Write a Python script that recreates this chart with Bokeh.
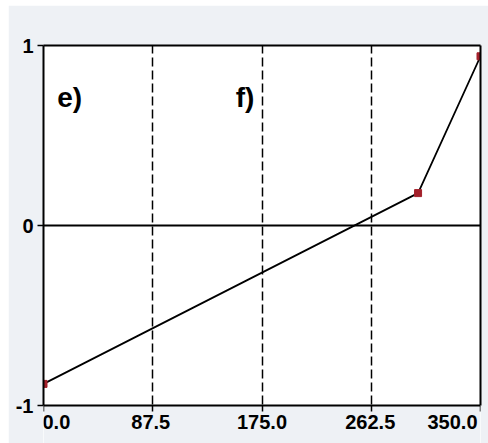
from bokeh.plotting import figure
from bokeh.models import Range1d, FixedTicker, Label, LinearAxis, BoxAnnotation
from bokeh.embed import file_html
from bokeh.resources import INLINE

# ---- data ----
x_values = [0.0, 300.0, 350.0]
y_values = [-0.88, 0.18, 0.94]
x_ticks = [0.0, 87.5, 175.0, 262.5, 350.0]
x_tick_labels = ["0.0", "87.5", "175.0", "262.5", "350.0"]
y_ticks = [-1, 0, 1]
y_tick_labels = ["-1", "0", "1"]
panel_labels = ["e)", "f)"]

# ---- styling / positions ----
AXIS_FONT = "Liberation Sans"
LABEL_FONT = "Liberation Sans"
AXIS_SIZE = "20px"
BG = "#eef1f5"
panel_label_pos = [(11.0, 0.71), (154.0, 0.71)]
x_label_align = ["left", "center", "center", "center", "right"]
x_label_dx = [-1, -2, 0, -1, -3]
y_lo, y_hi = y_ticks[0], y_ticks[-1]
strip = 38 / 180.0   # extra room below the frame for the x tick labels

p = figure(width=480, height=438,
           x_range=Range1d(x_ticks[0], x_ticks[-1]),
           y_range=Range1d(y_lo - strip, y_hi),
           x_axis_location=None, y_axis_location=None,
           output_backend="svg", toolbar_location=None,
           min_border_left=35, min_border_right=8,
           min_border_top=40, min_border_bottom=0,
           background_fill_color="white",
           border_fill_color=BG)
p.margin = (5, 0, 0, 8)
p.outline_line_color = None

# grid: dashed verticals at the inner x ticks, solid line at y = 0
p.xgrid.ticker = FixedTicker(ticks=x_ticks[1:-1])
p.xgrid.grid_line_color = "black"
p.xgrid.grid_line_width = 1.5
p.xgrid.grid_line_dash = "9 4"
p.ygrid.ticker = FixedTicker(ticks=[y_ticks[1]])
p.ygrid.grid_line_color = "black"
p.ygrid.grid_line_width = 2

# grey strip below the frame (holds the x tick labels)
p.add_layout(BoxAnnotation(top=y_lo, fill_color=BG, fill_alpha=1.0,
                           line_color=None, level="underlay"))

def style_axis(ax, ticks=True):
    ax.axis_line_color = "black"
    ax.axis_line_width = 2
    ax.major_tick_line_color = "black" if ticks else None
    ax.major_tick_line_width = 1.5
    ax.major_tick_in = 0
    ax.major_tick_out = 6
    ax.minor_tick_line_color = None
    ax.major_label_text_font = AXIS_FONT
    ax.major_label_text_font_style = "bold"
    ax.major_label_text_font_size = AXIS_SIZE if ticks else "0px"
    ax.major_label_text_color = "black"

# bottom axis at y = -1 (labels drawn separately so first/last can be aligned)
xax = LinearAxis(fixed_location=y_lo, ticker=FixedTicker(ticks=x_ticks),
                 major_label_overrides={t: "" for t in x_ticks})
style_axis(xax)
p.add_layout(xax, "below")

# left axis
yax = LinearAxis(ticker=FixedTicker(ticks=y_ticks), bounds=(y_lo, y_hi),
                 major_label_overrides={t: l for t, l in zip(y_ticks, y_tick_labels)},
                 major_label_standoff=4)
style_axis(yax)
p.add_layout(yax, "left")

# frame top and right borders
top_ax = LinearAxis(ticker=FixedTicker(ticks=[]))
style_axis(top_ax, ticks=False)
p.add_layout(top_ax, "above")
right_ax = LinearAxis(ticker=FixedTicker(ticks=[]), bounds=(y_lo, y_hi))
style_axis(right_ax, ticks=False)
p.add_layout(right_ax, "right")

# x tick labels
for t, lbl, al, dx in zip(x_ticks, x_tick_labels, x_label_align, x_label_dx):
    p.add_layout(Label(x=t, y=y_lo, x_offset=dx, y_offset=-9, text=lbl,
                       text_align=al, text_baseline="top",
                       text_font=AXIS_FONT, text_font_style="bold",
                       text_font_size=AXIS_SIZE, text_color="black"))

# data line and markers
p.line(x_values, y_values, line_color="black", line_width=1.8)
p.scatter(x_values, y_values, marker="square", size=7,
          fill_color="#a3202a", line_color="#a3202a")

# panel labels
for lbl, (lx, ly) in zip(panel_labels, panel_label_pos):
    p.add_layout(Label(x=lx, y=ly, text=lbl, text_align="left",
                       text_baseline="alphabetic",
                       text_font=LABEL_FONT, text_font_style="bold",
                       text_font_size="28px", text_color="black"))

open("out.html", "w").write(file_html(p, INLINE))
